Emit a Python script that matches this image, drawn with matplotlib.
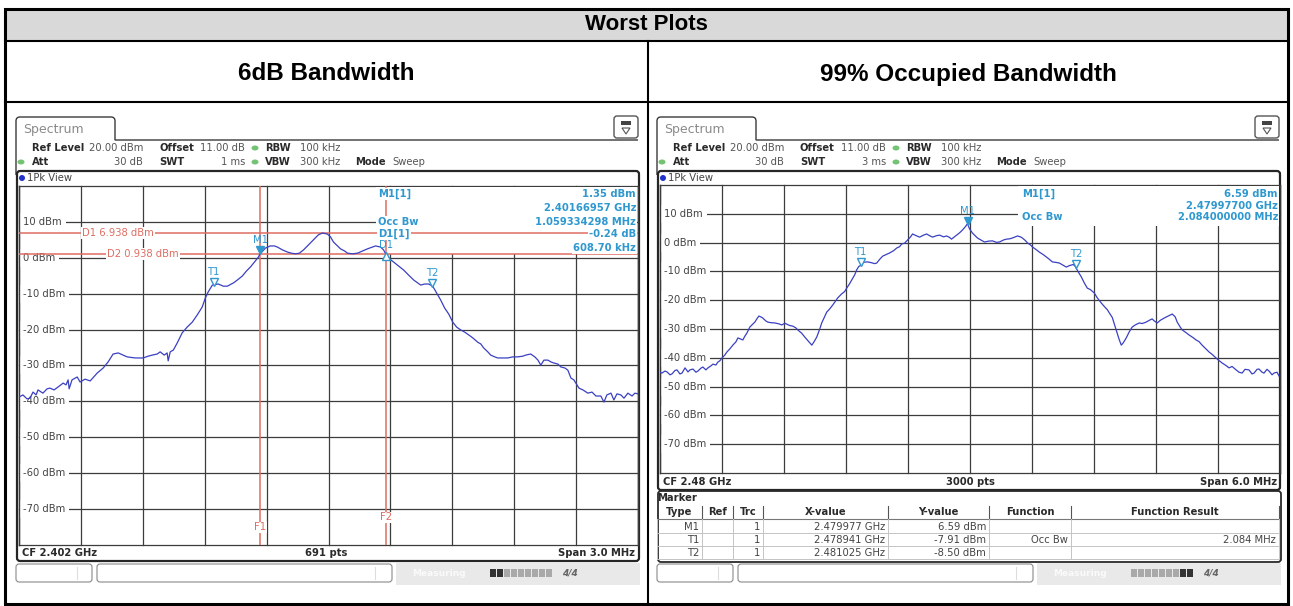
import matplotlib
matplotlib.use("Agg")
import numpy as np
import matplotlib.pyplot as plt
import matplotlib.transforms as mtransforms
from matplotlib.patches import Rectangle, FancyBboxPatch, PathPatch, Ellipse, Polygon
from matplotlib.path import Path

# ======================= DATA =======================
table_title = "Worst Plots"
column_titles = ["6dB Bandwidth", "99% Occupied Bandwidth"]

level_top = 20
level_bottom = -80
level_labels = ["10 dBm", "0 dBm", "-10 dBm", "-20 dBm", "-30 dBm", "-40 dBm", "-50 dBm", "-60 dBm", "-70 dBm"]
level_label_values = [10, 0, -10, -20, -30, -40, -50, -60, -70]

# ---- left screenshot: 6 dB bandwidth ----
bw6_settings_values = ["20.00 dBm", "11.00 dB", "100 kHz", "30 dB", "1 ms", "300 kHz", "Sweep"]
bw6_cf_label = "CF 2.402 GHz"
bw6_pts_label = "691 pts"
bw6_span_label = "Span 3.0 MHz"
bw6_span_mhz = 3.0
bw6_freq = [-1.500, -1.481, -1.461, -1.447, -1.432, -1.417, -1.408, -1.384, -1.364, -1.350,
            -1.330, -1.311, -1.286, -1.272, -1.262, -1.257, -1.243, -1.218, -1.204, -1.180,
            -1.155, -1.121, -1.092, -1.068, -1.044, -1.019, -0.976, -0.937, -0.898, -0.874,
            -0.854, -0.830, -0.816, -0.796, -0.782, -0.777, -0.767, -0.752, -0.733, -0.709,
            -0.685, -0.660, -0.636, -0.612, -0.597, -0.583, -0.563, -0.534, -0.510, -0.490,
            -0.461, -0.442, -0.418, -0.398, -0.379, -0.359, -0.340, -0.330, -0.320, -0.306,
            -0.282, -0.262, -0.248, -0.223, -0.199, -0.180, -0.160, -0.141, -0.121, -0.097,
            -0.073, -0.049, -0.029, -0.005, 0.010, 0.024, 0.044, 0.058, 0.078, 0.092,
            0.116, 0.141, 0.165, 0.189, 0.214, 0.228, 0.252, 0.267, 0.277, 0.296,
            0.316, 0.340, 0.364, 0.388, 0.413, 0.432, 0.447, 0.466, 0.485, 0.505,
            0.524, 0.544, 0.563, 0.583, 0.602, 0.621, 0.641, 0.660, 0.680, 0.699,
            0.723, 0.738, 0.752, 0.772, 0.786, 0.806, 0.820, 0.845, 0.869, 0.893,
            0.917, 0.942, 0.956, 0.980, 1.000, 1.015, 1.029, 1.044, 1.063, 1.078,
            1.092, 1.112, 1.126, 1.146, 1.160, 1.175, 1.189, 1.199, 1.214, 1.233,
            1.257, 1.277, 1.296, 1.320, 1.335, 1.349, 1.369, 1.383, 1.398, 1.417,
            1.432, 1.451, 1.471, 1.485, 1.500]
bw6_level = [-38.8, -38.2, -39.3, -39.1, -37.4, -38.2, -36.8, -37.7, -36.5, -36.3,
             -36.8, -36.0, -34.9, -35.4, -34.0, -36.5, -34.0, -33.2, -34.6, -33.8,
             -34.3, -32.1, -30.7, -29.0, -26.8, -26.5, -27.6, -27.9, -27.9, -27.4,
             -27.1, -26.8, -26.2, -27.1, -26.5, -28.7, -26.2, -25.7, -23.7, -20.9,
             -19.3, -17.9, -15.9, -13.7, -11.2, -9.5, -7.6, -7.3, -7.9, -7.9,
             -7.0, -6.2, -5.1, -3.7, -2.6, -1.2, 0.2, 1.3, 1.8, 2.7,
             3.3, 3.3, 3.0, 2.2, 1.6, 1.3, 1.1, 1.3, 2.2, 3.6,
             5.0, 6.4, 6.9, 6.6, 5.8, 4.4, 3.3, 2.5, 1.9, 1.3,
             1.1, 1.3, 1.9, 2.5, 3.0, 3.3, 3.0, 2.2, 1.1, -0.3,
             -1.2, -2.3, -3.4, -4.8, -6.2, -7.0, -7.6, -7.3, -7.3, -7.9,
             -9.8, -11.8, -14.0, -15.7, -17.9, -19.3, -20.1, -20.7, -21.5, -22.3,
             -23.5, -24.0, -25.1, -26.2, -27.1, -27.6, -27.9, -27.9, -27.9, -27.6,
             -27.6, -27.4, -27.1, -26.8, -27.6, -28.5, -29.9, -28.5, -28.5, -29.0,
             -29.3, -29.6, -30.4, -30.7, -31.3, -33.5, -34.0, -34.9, -36.3, -36.8,
             -37.7, -37.4, -38.5, -38.5, -40.2, -38.2, -37.7, -39.6, -37.9, -38.2,
             -39.1, -37.7, -38.5, -37.7, -37.9]
bw6_marker_names = ["M1", "T1", "T2"]
bw6_marker_freq = [-0.330, -0.556, 0.503]
bw6_marker_level = [1.35, -7.6, -7.9]
bw6_delta_name = "D1"
bw6_delta_freq = 0.2787
bw6_delta_level = 1.11
bw6_display_line_names = ["D1 6.938 dBm", "D2 0.938 dBm"]
bw6_display_line_levels = [6.938, 0.938]
bw6_freq_line_names = ["F1", "F2"]
bw6_freq_line_values = [-0.3304, 0.2783]
bw6_info_left = ["M1[1]", "Occ Bw", "D1[1]"]
bw6_info_right = ["1.35 dBm", "2.40166957 GHz", "1.059334298 MHz", "-0.24 dB", "608.70 kHz"]

# ---- right screenshot: 99% occupied bandwidth ----
obw_settings_values = ["20.00 dBm", "11.00 dB", "100 kHz", "30 dB", "3 ms", "300 kHz", "Sweep"]
obw_cf_label = "CF 2.48 GHz"
obw_pts_label = "3000 pts"
obw_span_label = "Span 6.0 MHz"
obw_span_mhz = 6.0
obw_freq = [-3.000, -2.981, -2.952, -2.932, -2.903, -2.884, -2.855, -2.836, -2.807, -2.787, -2.758,
            -2.729, -2.710, -2.681, -2.652, -2.633, -2.604, -2.585, -2.556, -2.536, -2.507,
            -2.488, -2.459, -2.440, -2.420, -2.401, -2.372, -2.353, -2.324, -2.295, -2.266,
            -2.246, -2.217, -2.198, -2.179, -2.159, -2.130, -2.101, -2.082, -2.063, -2.043,
            -2.024, -2.005, -1.976, -1.957, -1.928, -1.889, -1.850, -1.821, -1.792, -1.773,
            -1.744, -1.715, -1.686, -1.667, -1.628, -1.599, -1.570, -1.531, -1.512, -1.483,
            -1.454, -1.435, -1.406, -1.386, -1.357, -1.329, -1.300, -1.280, -1.242, -1.213,
            -1.193, -1.164, -1.145, -1.116, -1.097, -1.077, -1.058, -1.029, -0.990, -0.952,
            -0.923, -0.903, -0.874, -0.845, -0.807, -0.778, -0.739, -0.710, -0.681, -0.662,
            -0.633, -0.604, -0.575, -0.556, -0.527, -0.488, -0.449, -0.420, -0.391, -0.362,
            -0.324, -0.295, -0.256, -0.227, -0.198, -0.179, -0.150, -0.130, -0.101, -0.072,
            -0.043, -0.024, -0.005, 0.024, 0.053, 0.072, 0.111, 0.140, 0.179, 0.217,
            0.256, 0.285, 0.324, 0.353, 0.382, 0.411, 0.440, 0.459, 0.488, 0.507,
            0.536, 0.556, 0.585, 0.604, 0.643, 0.671, 0.710, 0.739, 0.768, 0.797,
            0.836, 0.865, 0.903, 0.932, 0.961, 0.981, 1.000, 1.019, 1.048, 1.077,
            1.106, 1.135, 1.164, 1.203, 1.232, 1.271, 1.300, 1.329, 1.348, 1.377,
            1.396, 1.415, 1.444, 1.464, 1.483, 1.512, 1.541, 1.570, 1.599, 1.638,
            1.667, 1.705, 1.734, 1.763, 1.783, 1.812, 1.841, 1.879, 1.918, 1.957,
            1.986, 2.005, 2.034, 2.053, 2.092, 2.121, 2.159, 2.188, 2.217, 2.246,
            2.285, 2.314, 2.343, 2.382, 2.411, 2.440, 2.478, 2.507, 2.536, 2.575,
            2.604, 2.633, 2.662, 2.700, 2.729, 2.749, 2.778, 2.797, 2.826, 2.845,
            2.874, 2.894, 2.923, 2.942, 2.971, 2.990]
obw_level = [-45.0, -45.3, -44.6, -44.9, -45.9, -45.6, -44.4, -44.2, -45.6, -45.3, -43.5,
             -44.9, -44.2, -43.9, -45.0, -44.6, -43.6, -43.2, -44.2, -43.5, -42.8,
             -42.2, -42.5, -41.5, -41.0, -40.1, -39.0, -38.0, -36.9, -35.6, -34.5,
             -33.1, -33.5, -33.8, -32.5, -31.4, -29.3, -28.3, -27.6, -26.5, -25.5,
             -25.8, -26.2, -27.2, -27.6, -27.8, -27.9, -28.2, -28.6, -28.0, -28.3,
             -28.8, -29.0, -29.6, -30.3, -31.5, -32.8, -34.0, -35.6, -34.6, -32.8,
             -30.0, -27.9, -25.6, -24.1, -23.0, -21.7, -20.2, -19.2, -17.8, -17.0,
             -15.8, -14.2, -13.0, -11.2, -9.5, -8.3, -7.9, -6.8, -6.7, -7.0,
             -7.3, -7.1, -5.8, -4.7, -4.1, -3.6, -2.8, -1.9, -1.4, -0.5,
             -0.2, 0.9, 2.0, 3.0, 2.5, 1.9, 2.6, 3.0, 2.4, 1.9,
             2.4, 2.6, 2.0, 2.3, 1.8, 1.2, 2.0, 2.6, 3.4, 4.4,
             5.6, 6.6, 4.8, 3.3, 2.3, 1.6, 0.8, 0.2, 0.5, 0.6,
             0.1, 0.2, 0.9, 1.2, 1.3, 1.6, 2.0, 2.3, 2.0, 1.6,
             0.7, -0.1, -0.8, -1.5, -2.5, -3.3, -4.2, -5.0, -5.8, -6.7,
             -6.9, -7.1, -7.9, -8.5, -8.0, -7.8, -7.6, -8.3, -10.2, -11.9,
             -14.0, -15.8, -16.3, -17.5, -19.2, -21.0, -22.2, -23.3, -24.4, -26.0,
             -28.2, -30.3, -33.7, -35.6, -34.8, -33.1, -31.0, -29.3, -28.6, -27.9,
             -28.1, -27.6, -27.0, -26.5, -27.2, -27.9, -27.0, -26.2, -25.5, -24.8,
             -25.8, -27.6, -29.3, -30.3, -31.3, -32.1, -33.0, -33.8, -34.4, -35.6,
             -37.0, -38.0, -38.8, -40.1, -41.0, -41.8, -42.7, -43.5, -43.0, -44.2,
             -45.0, -45.3, -44.0, -44.2, -45.6, -45.3, -44.0, -43.9, -45.0, -45.3,
             -44.0, -44.6, -45.9, -45.3, -45.0, -46.3]
obw_marker_names = ["M1", "T1", "T2"]
obw_marker_freq = [-0.023, -1.059, 1.025]
obw_marker_level = [6.59, -7.91, -8.50]
obw_info_left = ["M1[1]", "Occ Bw"]
obw_info_right = ["6.59 dBm", "2.47997700 GHz", "2.084000000 MHz"]

table_header = ["Type", "Ref", "Trc", "X-value", "Y-value", "Function", "Function Result"]
table_type = ["M1", "T1", "T2"]
table_ref = ["", "", ""]
table_trc = ["1", "1", "1"]
table_x = ["2.479977 GHz", "2.478941 GHz", "2.481025 GHz"]
table_y = ["6.59 dBm", "-7.91 dBm", "-8.50 dBm"]
table_func = ["", "Occ Bw", ""]
table_result = ["", "2.084 MHz", ""]

# ======================= STYLE / LAYOUT =======================
W, H = 1293, 606
fig = plt.figure(figsize=(W / 100, H / 100), dpi=100)
PIX = mtransforms.Affine2D().scale(1.0 / W, -1.0 / H).translate(0, 1) + fig.transFigure

bg = fig.add_axes([0, 0, 1, 1])
bg.set_xlim(0, W)
bg.set_ylim(H, 0)
bg.axis("off")

FONT = "DejaVu Sans"
HFONT = "Liberation Sans"
INFO = "#2f98cf"
RED = "#de6d62"
TRACE = "#3a40c2"
GRID = "#3c3c3c"
GREEN = "#74c274"
FS = 7.2


def rect(x0, y0, x1, y1, **kw):
    bg.add_patch(Rectangle((x0, y0), x1 - x0, y1 - y0, **kw))


def rrect(x0, y0, x1, y1, r, **kw):
    bg.add_patch(FancyBboxPatch((x0 + r, y0 + r), x1 - x0 - 2 * r, y1 - y0 - 2 * r,
                                boxstyle="round,pad=%g" % r, **kw))


def t(x, y, s, **kw):
    kw.setdefault("fontfamily", FONT)
    kw.setdefault("fontsize", FS)
    kw.setdefault("va", "center")
    kw.setdefault("color", "#2a2a2a")
    bg.text(x, y, s, **kw)


# ---------------- table ----------------
rect(5, 9, 1288, 41, facecolor="#d9d9d9", edgecolor="none")
bg.plot([5, 1288], [41, 41], color="black", lw=1.5)
bg.plot([5, 1288], [102, 102], color="black", lw=1.5)
bg.plot([648, 648], [41, 604], color="black", lw=1.5)
rect(5, 9, 1288, 604, fill=False, edgecolor="black", lw=2.2)
t(646, 25, table_title, ha="center", fontfamily=HFONT, fontweight="bold", fontsize=16, color="black")
t(326, 74, column_titles[0], ha="center", fontfamily=HFONT, fontweight="bold", fontsize=17.5, color="black")
t(968, 74, column_titles[1], ha="center", fontfamily=HFONT, fontweight="bold", fontsize=17.5, color="black")


def screen_chrome(ox, settings, frame_bottom):
    # tab
    x0, x1, yt, yb = 16 + ox, 115 + ox, 117, 140
    verts = [(x0, 175), (x0, yt + 4), (x0, yt), (x0 + 4, yt), (x1 - 4, yt), (x1, yt),
             (x1, yt + 4), (x1, yb), (638 + ox, yb)]
    codes = [Path.MOVETO, Path.LINETO, Path.CURVE3, Path.CURVE3, Path.LINETO,
             Path.CURVE3, Path.CURVE3, Path.LINETO, Path.LINETO]
    bg.add_patch(PathPatch(Path(verts, codes), fill=False, edgecolor="#3a3a3a", lw=1.0))
    t(x0 + 7, 129, "Spectrum", color="#8a8a8a", fontsize=9)
    # icon
    rrect(614 + ox, 116, 638 + ox, 138, 3, facecolor="white", edgecolor="#555555", lw=1)
    rect(621 + ox, 121, 631 + ox, 125, facecolor="#444444", edgecolor="none")
    bg.add_patch(Polygon([(622 + ox, 128), (630 + ox, 128), (626 + ox, 134)], closed=True,
                         fill=False, edgecolor="#555555", lw=0.8))
    # settings rows
    r1, r2 = 148, 162
    t(32 + ox, r1, "Ref Level", fontweight="bold")
    t(143 + ox, r1, settings[0], ha="right", color="#555555")
    t(159 + ox, r1, "Offset", fontweight="bold")
    t(245 + ox, r1, settings[1], ha="right", color="#555555")
    bg.add_patch(Ellipse((255 + ox, r1), 7, 5, facecolor=GREEN, edgecolor="none"))
    t(265 + ox, r1, "RBW", fontweight="bold")
    t(300 + ox, r1, settings[2], color="#555555")
    bg.add_patch(Ellipse((21 + ox, r2), 7, 5, facecolor=GREEN, edgecolor="none"))
    t(32 + ox, r2, "Att", fontweight="bold")
    t(143 + ox, r2, settings[3], ha="right", color="#555555")
    t(159 + ox, r2, "SWT", fontweight="bold")
    t(245 + ox, r2, settings[4], ha="right", color="#555555")
    bg.add_patch(Ellipse((255 + ox, r2), 7, 5, facecolor=GREEN, edgecolor="none"))
    t(265 + ox, r2, "VBW", fontweight="bold")
    t(300 + ox, r2, settings[5], color="#555555")
    t(355 + ox, r2, "Mode", fontweight="bold")
    t(392 + ox, r2, settings[6], color="#555555")
    # plot frame
    rrect(17 + ox, 171, 639 + ox, frame_bottom, 3, facecolor="white", edgecolor="#262626", lw=1.6)
    bg.add_patch(Ellipse((22 + ox, 178), 6, 6, facecolor="#2233cc", edgecolor="none"))
    t(27 + ox, 178, "1Pk View", color="#444444")


def status_bar(ox, dark_first):
    rrect(16 + ox, 564, 92 + ox, 582, 3, facecolor="white", edgecolor="#8a8a8a", lw=0.8)
    bg.plot([77 + ox, 77 + ox], [567, 579], color="#dddddd", lw=0.8)
    rrect(97 + ox, 564, 392 + ox, 582, 3, facecolor="white", edgecolor="#8a8a8a", lw=0.8)
    bg.plot([375 + ox, 375 + ox], [567, 579], color="#dddddd", lw=0.8)
    rect(396 + ox, 563, 640 + ox, 585, facecolor="#e9e9e9", edgecolor="none")
    t(412 + ox, 573, "Measuring", color="#fafafa", fontweight="bold", fontsize=6.5)
    n = 9
    for i in range(n):
        xb = 490 + ox + i * 7
        dark = (i < 2) if dark_first else (i >= n - 2)
        rect(xb, 569, xb + 6, 577, facecolor="#333333" if dark else "#a9a9a9", edgecolor="none")
    t(562 + ox, 573, "4/4", color="#666666", fontweight="bold", fontsize=6.5, fontstyle="italic")


def spectrum_axes(x0, y0, x1, y1, span):
    ax = fig.add_axes([x0 / W, 1 - y1 / H, (x1 - x0) / W, (y1 - y0) / H])
    ax.set_xlim(-span / 2, span / 2)
    ax.set_ylim(level_bottom, level_top)
    ax.axis("off")
    for v in np.linspace(-span / 2, span / 2, 11):
        ax.axvline(v, color=GRID, lw=0.9, zorder=1, clip_on=False)
    for v in np.arange(level_bottom, level_top + 1, 10):
        ax.axhline(v, color=GRID, lw=0.9, zorder=1, clip_on=False)
    # keep the outer left/right border visible above the label boxes
    ax.axvline(-span / 2, color=GRID, lw=1.0, zorder=3.5, clip_on=False)
    ax.axvline(span / 2, color=GRID, lw=1.0, zorder=3.5, clip_on=False)
    xf = 4.0 / (x1 - x0)
    for lab, lv in zip(level_labels, level_label_values):
        ax.text(xf, lv, lab, transform=ax.get_yaxis_transform(), fontfamily=FONT, fontsize=FS,
                color="#444444", va="center", ha="left", zorder=3,
                bbox=dict(boxstyle="square,pad=0.4", facecolor="white", edgecolor="none"))
    return ax


def draw_markers(ax, names, freqs, levels):
    off = mtransforms.offset_copy(ax.transData, fig=fig, x=0, y=3, units="dots")
    for name, f, lv in zip(names, freqs, levels):
        filled = name.startswith("M")
        ax.plot([f], [lv], marker="v", ms=6, mfc=INFO if filled else "white", mec=INFO, mew=1,
                transform=off, zorder=8, clip_on=False, ls="none")
        ax.annotate(name, (f, lv), xytext=(0, 13), textcoords="offset pixels", ha="center",
                    va="center", color=INFO, fontsize=FS, fontfamily=FONT, zorder=9)


def info_block(ax, xl, xr, left_items, right_items):
    for s, y in left_items:
        ax.text(xl, y, s, transform=PIX, fontfamily=FONT, fontsize=FS, fontweight="bold",
                color=INFO, va="center", ha="left", zorder=9, clip_on=False,
                bbox=dict(boxstyle="square,pad=0.1", facecolor="white", edgecolor="none"))
    for s, y in right_items:
        ax.text(xr, y, s, transform=PIX, fontfamily=FONT, fontsize=FS, fontweight="bold",
                color=INFO, va="center", ha="right", zorder=9, clip_on=False,
                bbox=dict(boxstyle="square,pad=0.1", facecolor="white", edgecolor="none"))


# ================= LEFT: 6 dB bandwidth =================
screen_chrome(0, bw6_settings_values, 561)
t(22, 553, bw6_cf_label, fontweight="bold")
t(326, 553, bw6_pts_label, fontweight="bold", ha="center")
t(635, 553, bw6_span_label, fontweight="bold", ha="right")
status_bar(0, True)

axL = spectrum_axes(19, 186, 638, 545, bw6_span_mhz)
axL.add_patch(Rectangle((376, 187), 261, 67, transform=PIX, facecolor="white", edgecolor="none",
                        zorder=2, clip_on=False))
for lv in bw6_display_line_levels:
    axL.axhline(lv, color=RED, lw=1.1, zorder=4)
for fv in bw6_freq_line_values:
    axL.axvline(fv, color=RED, lw=1.1, zorder=4)
for name, lv, px in zip(bw6_display_line_names, bw6_display_line_levels, [82, 107]):
    axL.text((px - 19) / 619.0, lv, name, transform=axL.get_yaxis_transform(), fontfamily=FONT,
             fontsize=FS, color=RED, va="center", ha="left", zorder=5,
             bbox=dict(boxstyle="square,pad=0.1", facecolor="white", edgecolor="none"))
for name, fv, py in zip(bw6_freq_line_names, bw6_freq_line_values, [527, 517]):
    axL.text(fv, 1 - (py - 186) / 359.0, name, transform=axL.get_xaxis_transform(), fontfamily=FONT,
             fontsize=FS, color=RED, va="center", ha="center", zorder=5,
             bbox=dict(boxstyle="square,pad=0.05", facecolor="white", edgecolor="none"))
axL.plot(bw6_freq, bw6_level, color=TRACE, lw=0.9, zorder=6)
draw_markers(axL, bw6_marker_names, bw6_marker_freq, bw6_marker_level)
offD = mtransforms.offset_copy(axL.transData, fig=fig, x=0, y=-2, units="dots")
axL.plot([bw6_delta_freq], [bw6_delta_level], marker="^", ms=6, mfc="white", mec=INFO, mew=1,
         transform=offD, zorder=8, ls="none")
axL.annotate(bw6_delta_name, (bw6_delta_freq, bw6_delta_level), xytext=(0, 9),
             textcoords="offset pixels", ha="center", va="center", color=INFO, fontsize=FS,
             fontfamily=FONT, zorder=9)
info_block(axL, 378, 636,
           list(zip(bw6_info_left, [194, 222, 234])),
           list(zip(bw6_info_right, [194, 208, 222, 234, 248])))

# ================= RIGHT: 99 % occupied bandwidth =================
OX = 641
screen_chrome(OX, obw_settings_values, 490)
t(663, 482, obw_cf_label, fontweight="bold")
t(970, 482, obw_pts_label, fontweight="bold", ha="center")
t(1277, 482, obw_span_label, fontweight="bold", ha="right")

axR = spectrum_axes(660, 185, 1280, 473, obw_span_mhz)
axR.add_patch(Rectangle((1018, 186), 261, 40, transform=PIX, facecolor="white", edgecolor="none",
                        zorder=2, clip_on=False))
axR.plot(obw_freq, obw_level, color=TRACE, lw=0.9, zorder=6)
draw_markers(axR, obw_marker_names, obw_marker_freq, obw_marker_level)
info_block(axR, 1022, 1278,
           list(zip(obw_info_left, [194, 217])),
           list(zip(obw_info_right, [194, 206, 217])))

# marker table panel
rrect(658, 491, 1281, 562, 3, facecolor="white", edgecolor="#2a2a2a", lw=1.3)
t(657, 498, "Marker", fontweight="bold")
cols = [657, 702, 733, 763, 888, 989, 1071, 1279]
rows_y = [512, 527, 540, 553]
row_lines = [505, 519, 533, 546, 559]
for i, h in enumerate(table_header):
    t((cols[i] + cols[i + 1]) / 2.0, rows_y[0], h, fontweight="bold", ha="center")
for c in cols[1:]:
    bg.plot([c, c], [506, 519], color="#555555", lw=0.8)
bg.plot([cols[0], cols[-1]], [519, 519], color="#777777", lw=0.8)
for yl in row_lines[2:]:
    bg.plot([cols[0], cols[-1]], [yl, yl], color="#c4c4c4", lw=0.7)
for c in cols:
    bg.plot([c, c], [519, 559], color="#c4c4c4", lw=0.7)
table_cols = [table_type, table_ref, table_trc, table_x, table_y, table_func, table_result]
for ci, colvals in enumerate(table_cols):
    for ri, val in enumerate(colvals):
        if val:
            t(cols[ci + 1] - 3, rows_y[ri + 1], val, ha="right", color="#444444")
status_bar(OX, False)

fig.savefig("out.png", dpi=100)
